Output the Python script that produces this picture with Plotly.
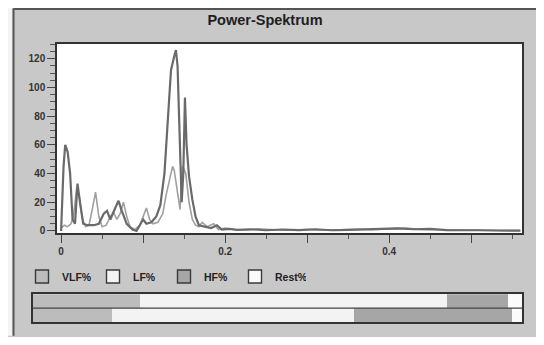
import plotly.graph_objects as go

# ---- data ----
freq_a = [0.000, 0.003, 0.005, 0.008, 0.011, 0.014, 0.017, 0.020, 0.023, 0.027,
          0.032, 0.040, 0.046, 0.052, 0.056, 0.060, 0.066, 0.070, 0.074, 0.080,
          0.087, 0.092, 0.097, 0.100, 0.104, 0.110, 0.116, 0.121, 0.126, 0.130,
          0.134, 0.138, 0.140, 0.142, 0.145, 0.147, 0.149, 0.151, 0.153, 0.156,
          0.160, 0.164, 0.168, 0.175, 0.183, 0.190, 0.196, 0.205, 0.215, 0.230,
          0.250, 0.270, 0.290, 0.310, 0.330, 0.350, 0.370, 0.390, 0.410, 0.430,
          0.450, 0.470, 0.490, 0.510, 0.530, 0.550, 0.560]
power_a = [0, 45, 60, 55, 40, 8, 5, 33, 20, 5,
           4, 4, 5, 12, 14, 8, 16, 21, 14, 5,
           1, 0, 5, 8, 5, 6, 10, 18, 40, 75,
           112, 122, 126, 115, 60, 20, 40, 93, 60, 38,
           22, 10, 4, 3, 2, 4, 1, 1.5, 0.8, 1.2,
           0.5, 1.0, 0.6, 1.2, 0.5, 0.8, 1.0, 1.5, 1.8, 1.2,
           1.5, 0.6, 0.3, 0.5, 0.3, 0.2, 0.2]

freq_b = [0.000, 0.004, 0.008, 0.012, 0.015, 0.019, 0.022, 0.026, 0.030, 0.034,
          0.038, 0.042, 0.046, 0.050, 0.055, 0.060, 0.064, 0.068, 0.072, 0.076,
          0.080, 0.084, 0.090, 0.096, 0.100, 0.104, 0.108, 0.112, 0.118, 0.124,
          0.128, 0.132, 0.136, 0.138, 0.142, 0.145, 0.148, 0.152, 0.156, 0.160,
          0.164, 0.168, 0.172, 0.178, 0.186, 0.192, 0.200, 0.210, 0.225, 0.240,
          0.260, 0.280, 0.300, 0.320, 0.340, 0.360, 0.380, 0.400, 0.420, 0.440,
          0.460, 0.480, 0.500, 0.520, 0.540, 0.560]
power_b = [2, 4, 3, 5, 10, 30, 25, 8, 3, 4,
           15, 27, 10, 3, 4, 10, 13, 8, 12, 20,
           10, 3, 1, 4, 10, 16, 8, 5, 6, 12,
           25, 36, 45, 42, 25, 15, 45, 40, 20, 8,
           4, 3, 6, 3, 5, 1, 2, 1, 0.5, 1.5,
           0.8, 0.5, 1.0, 0.6, 0.8, 1.2, 0.8, 1.6, 2.0, 1.0,
           0.8, 0.5, 0.4, 0.6, 0.3, 0.3]

x_tickvals = [0, 0.1, 0.2, 0.3, 0.4, 0.5]
x_ticktext = ["0", "", "0.2", "", "0.4", ""]
y_tickvals = [0, 20, 40, 60, 80, 100, 120]

bands = ["VLF%", "LF%", "HF%", "Rest%"]
rows = ["1", "2"]
band_values = {
    "VLF%": [21.8, 16.1],
    "LF%": [62.9, 49.6],
    "HF%": [12.4, 32.2],
    "Rest%": [2.9, 2.1],
}
band_colors = {"VLF%": "#bcbcbc", "LF%": "#f3f3f3", "HF%": "#a6a6a6", "Rest%": "#fbfbfb"}

FONT = "Liberation Sans"

# ---- geometry (page body has an 8px margin; figure sized to fit) ----
W_FIG, H_FIG = 528, 329
ML, MR, MT, MB = 14, 14, 36, 12
PW = W_FIG - ML - MR      # plot-area width
PH = H_FIG - MT - MB      # plot-area height

def px_x(p):  # paper pixel -> paper fraction
    return (p - ML) / PW

def px_y(p):
    return (H_FIG - MB - p) / PH

fig = go.Figure()

fig.add_trace(go.Scatter(x=freq_b, y=power_b, mode="lines",
                         line=dict(color="#a0a0a0", width=1.6),
                         showlegend=False, xaxis="x", yaxis="y"))
fig.add_trace(go.Scatter(x=freq_a, y=power_a, mode="lines",
                         line=dict(color="#6a6a6a", width=2.2),
                         showlegend=False, xaxis="x", yaxis="y"))

for b in bands:
    fig.add_trace(go.Bar(x=band_values[b], y=rows, orientation="h",
                         marker=dict(color=band_colors[b], line=dict(width=0)),
                         showlegend=False, xaxis="x2", yaxis="y2"))

# legend entries
for b in bands:
    fig.add_trace(go.Scatter(x=[None], y=[None], mode="markers", name=b,
                             marker=dict(symbol="square", size=13, color=band_colors[b],
                                         line=dict(color="#3a3a3a", width=1.4)),
                             xaxis="x", yaxis="y"))

fig.update_layout(
    width=W_FIG, height=H_FIG,
    margin=dict(l=ML, r=MR, t=MT, b=MB),
    paper_bgcolor="#c8c8c8",
    plot_bgcolor="#ffffff",
    font=dict(family=FONT, size=10, color="#2a2a2a"),
    title=dict(text="<b>Power-Spektrum</b>", x=257 / W_FIG, xanchor="center",
               y=1 - 12 / H_FIG, yanchor="middle",
               font=dict(family=FONT, size=14.5, color="#1e1e1e")),
    barmode="stack", bargap=0,
    showlegend=True,
    legend=dict(orientation="h", x=0, xanchor="left", y=px_y(271), yanchor="middle",
                traceorder="normal",
                bgcolor="rgba(0,0,0,0)", entrywidth=26, entrywidthmode="pixels",
                font=dict(family=FONT, size=10.5, color="#222222", weight="bold"),
                itemclick=False, itemdoubleclick=False),
    xaxis=dict(domain=[px_x(49), 1], range=[-0.005, 0.562],
               tickvals=x_tickvals, ticktext=x_ticktext,
               ticks="outside", ticklen=8, tickwidth=1, tickcolor="#444",
               minor=dict(dtick=0.05, tick0=0, ticks="outside", ticklen=4,
                          tickcolor="#555", showgrid=False),
               showgrid=False, zeroline=False,
               showline=True, linecolor="#333", linewidth=1.5, mirror=True,
               tickfont=dict(size=10, color="#333", weight="bold")),
    yaxis=dict(domain=[px_y(227), 1], range=[-1.4, 130.3],
               tickvals=y_tickvals,
               ticks="outside", ticklen=8, tickwidth=1, tickcolor="#444",
               minor=dict(dtick=5, ticks="outside", ticklen=5, tickcolor="#555", showgrid=False),
               showgrid=False, zeroline=False,
               showline=True, linecolor="#333", linewidth=1.5, mirror=True,
               tickfont=dict(size=10, color="#333", weight="bold")),
    xaxis2=dict(domain=[px_x(25), 1], range=[0, 100], anchor="y2",
                showticklabels=False, ticks="", showgrid=False, zeroline=False,
                showline=True, linecolor="#333", linewidth=1.5, mirror=True),
    yaxis2=dict(domain=[0, px_y(289)], anchor="x2", autorange="reversed",
                showticklabels=False, ticks="", showgrid=False, zeroline=False,
                showline=True, linecolor="#333", linewidth=1.5, mirror=True),
    shapes=[
        dict(type="line", xref="x2 domain", yref="y2", x0=0, x1=1, y0=0.5, y1=0.5,
             line=dict(color="#444", width=1.2), layer="above"),
        # white strip left of the panel frame
        dict(type="rect", xref="paper", yref="paper",
             x0=px_x(-2), x1=px_x(4.5), y0=px_y(H_FIG + 2), y1=px_y(-2),
             fillcolor="#f4f4f4", line=dict(width=0), layer="below"),
        # panel frame: left and top edges
        dict(type="line", xref="paper", yref="paper",
             x0=px_x(5.5), x1=px_x(5.5), y0=px_y(0), y1=px_y(H_FIG + 2),
             line=dict(color="#555", width=2)),
        dict(type="line", xref="paper", yref="paper",
             x0=px_x(5.5), x1=px_x(W_FIG + 2), y0=px_y(0.5), y1=px_y(0.5),
             line=dict(color="#555", width=2)),
    ],
)

fig.write_html("out.html")
